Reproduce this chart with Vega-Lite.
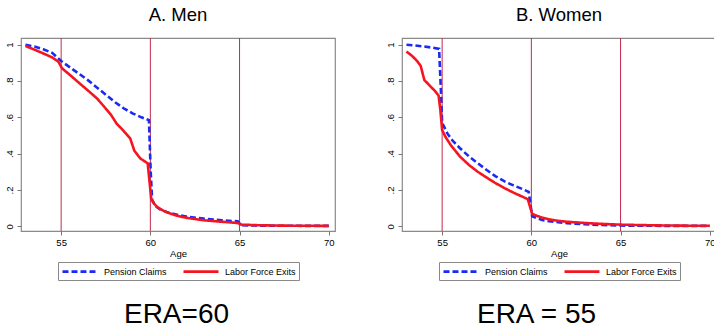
{
  "$schema": "https://vega.github.io/schema/vega-lite/v6.json",
  "background": "white",
  "padding": {"left": 3, "top": 5, "right": 0, "bottom": 0},
  "config": {
    "font": "Liberation Sans",
    "view": {"stroke": "#8a8a8a", "strokeWidth": 1.2},
    "axis": {"grid": false, "domain": false, "tickColor": "#777777", "tickSize": 4, "labelFont": "Liberation Sans", "labelFontSize": 9.5, "labelColor": "#000000", "titleFont": "Liberation Sans", "titleFontWeight": "normal", "titleFontSize": 9.5, "titleColor": "#000000"},
    "legend": {"orient": "bottom", "direction": "horizontal", "symbolType": "M-1,0H6", "symbolSize": 100, "symbolStrokeWidth": 2.6, "labelFont": "Liberation Sans", "labelFontSize": 9, "labelColor": "#000000", "strokeColor": "#8a8a8a", "padding": 3, "columnPadding": 11, "labelOffset": 30, "offset": 4, "layout": {"bottom": {"anchor": "middle"}}},
    "title": {"font": "Liberation Sans", "fontWeight": "normal", "color": "#000000", "anchor": "middle"},
    "concat": {"spacing": 48}
  },
  "datasets": {
    "rules": [{"age": 55}, {"age": 60}, {"age": 65}],
    "curves": [
      {"panel": "A", "series": "Pension Claims", "age": 53, "value": 1.0},
      {"panel": "A", "series": "Pension Claims", "age": 53.5, "value": 0.99},
      {"panel": "A", "series": "Pension Claims", "age": 54, "value": 0.975},
      {"panel": "A", "series": "Pension Claims", "age": 54.5, "value": 0.955},
      {"panel": "A", "series": "Pension Claims", "age": 55, "value": 0.91},
      {"panel": "A", "series": "Pension Claims", "age": 55.5, "value": 0.875},
      {"panel": "A", "series": "Pension Claims", "age": 56, "value": 0.84},
      {"panel": "A", "series": "Pension Claims", "age": 56.5, "value": 0.805},
      {"panel": "A", "series": "Pension Claims", "age": 57, "value": 0.765},
      {"panel": "A", "series": "Pension Claims", "age": 57.5, "value": 0.725},
      {"panel": "A", "series": "Pension Claims", "age": 58, "value": 0.685},
      {"panel": "A", "series": "Pension Claims", "age": 58.5, "value": 0.65},
      {"panel": "A", "series": "Pension Claims", "age": 59, "value": 0.622},
      {"panel": "A", "series": "Pension Claims", "age": 59.5, "value": 0.6},
      {"panel": "A", "series": "Pension Claims", "age": 59.92, "value": 0.585},
      {"panel": "A", "series": "Pension Claims", "age": 60.02, "value": 0.3},
      {"panel": "A", "series": "Pension Claims", "age": 60.1, "value": 0.145},
      {"panel": "A", "series": "Pension Claims", "age": 60.3, "value": 0.11},
      {"panel": "A", "series": "Pension Claims", "age": 60.6, "value": 0.09},
      {"panel": "A", "series": "Pension Claims", "age": 61, "value": 0.076},
      {"panel": "A", "series": "Pension Claims", "age": 61.5, "value": 0.064},
      {"panel": "A", "series": "Pension Claims", "age": 62, "value": 0.054},
      {"panel": "A", "series": "Pension Claims", "age": 63, "value": 0.042},
      {"panel": "A", "series": "Pension Claims", "age": 64, "value": 0.033},
      {"panel": "A", "series": "Pension Claims", "age": 64.9, "value": 0.027},
      {"panel": "A", "series": "Pension Claims", "age": 65.1, "value": 0.006},
      {"panel": "A", "series": "Pension Claims", "age": 66, "value": 0.004},
      {"panel": "A", "series": "Pension Claims", "age": 67, "value": 0.003},
      {"panel": "A", "series": "Pension Claims", "age": 68, "value": 0.003},
      {"panel": "A", "series": "Pension Claims", "age": 69, "value": 0.002},
      {"panel": "A", "series": "Pension Claims", "age": 70, "value": 0.002},
      {"panel": "A", "series": "Labor Force Exits", "age": 53, "value": 0.993},
      {"panel": "A", "series": "Labor Force Exits", "age": 53.5, "value": 0.973},
      {"panel": "A", "series": "Labor Force Exits", "age": 54, "value": 0.952},
      {"panel": "A", "series": "Labor Force Exits", "age": 54.5, "value": 0.93},
      {"panel": "A", "series": "Labor Force Exits", "age": 54.85, "value": 0.906},
      {"panel": "A", "series": "Labor Force Exits", "age": 55.05, "value": 0.87},
      {"panel": "A", "series": "Labor Force Exits", "age": 55.5, "value": 0.833},
      {"panel": "A", "series": "Labor Force Exits", "age": 56, "value": 0.79},
      {"panel": "A", "series": "Labor Force Exits", "age": 56.5, "value": 0.748},
      {"panel": "A", "series": "Labor Force Exits", "age": 57, "value": 0.705},
      {"panel": "A", "series": "Labor Force Exits", "age": 57.4, "value": 0.66},
      {"panel": "A", "series": "Labor Force Exits", "age": 57.8, "value": 0.613},
      {"panel": "A", "series": "Labor Force Exits", "age": 58.1, "value": 0.567},
      {"panel": "A", "series": "Labor Force Exits", "age": 58.5, "value": 0.525},
      {"panel": "A", "series": "Labor Force Exits", "age": 58.87, "value": 0.484},
      {"panel": "A", "series": "Labor Force Exits", "age": 59.1, "value": 0.417},
      {"panel": "A", "series": "Labor Force Exits", "age": 59.43, "value": 0.374},
      {"panel": "A", "series": "Labor Force Exits", "age": 59.85, "value": 0.347},
      {"panel": "A", "series": "Labor Force Exits", "age": 59.95, "value": 0.25},
      {"panel": "A", "series": "Labor Force Exits", "age": 60.05, "value": 0.15},
      {"panel": "A", "series": "Labor Force Exits", "age": 60.2, "value": 0.125},
      {"panel": "A", "series": "Labor Force Exits", "age": 60.4, "value": 0.105},
      {"panel": "A", "series": "Labor Force Exits", "age": 60.7, "value": 0.087},
      {"panel": "A", "series": "Labor Force Exits", "age": 61, "value": 0.074},
      {"panel": "A", "series": "Labor Force Exits", "age": 61.5, "value": 0.058},
      {"panel": "A", "series": "Labor Force Exits", "age": 62, "value": 0.047},
      {"panel": "A", "series": "Labor Force Exits", "age": 63, "value": 0.033},
      {"panel": "A", "series": "Labor Force Exits", "age": 64, "value": 0.025},
      {"panel": "A", "series": "Labor Force Exits", "age": 64.9, "value": 0.018},
      {"panel": "A", "series": "Labor Force Exits", "age": 65.1, "value": 0.009},
      {"panel": "A", "series": "Labor Force Exits", "age": 66, "value": 0.006},
      {"panel": "A", "series": "Labor Force Exits", "age": 67, "value": 0.004},
      {"panel": "A", "series": "Labor Force Exits", "age": 68, "value": 0.003},
      {"panel": "A", "series": "Labor Force Exits", "age": 69, "value": 0.003},
      {"panel": "A", "series": "Labor Force Exits", "age": 70, "value": 0.002},
      {"panel": "B", "series": "Pension Claims", "age": 53, "value": 1.0},
      {"panel": "B", "series": "Pension Claims", "age": 53.5, "value": 0.996},
      {"panel": "B", "series": "Pension Claims", "age": 54, "value": 0.99},
      {"panel": "B", "series": "Pension Claims", "age": 54.5, "value": 0.983},
      {"panel": "B", "series": "Pension Claims", "age": 54.83, "value": 0.977},
      {"panel": "B", "series": "Pension Claims", "age": 54.93, "value": 0.75},
      {"panel": "B", "series": "Pension Claims", "age": 55.0, "value": 0.57},
      {"panel": "B", "series": "Pension Claims", "age": 55.3, "value": 0.51},
      {"panel": "B", "series": "Pension Claims", "age": 55.6, "value": 0.47},
      {"panel": "B", "series": "Pension Claims", "age": 56, "value": 0.43},
      {"panel": "B", "series": "Pension Claims", "age": 56.5, "value": 0.385},
      {"panel": "B", "series": "Pension Claims", "age": 57, "value": 0.347},
      {"panel": "B", "series": "Pension Claims", "age": 57.5, "value": 0.31},
      {"panel": "B", "series": "Pension Claims", "age": 58, "value": 0.275},
      {"panel": "B", "series": "Pension Claims", "age": 58.5, "value": 0.247},
      {"panel": "B", "series": "Pension Claims", "age": 59, "value": 0.225},
      {"panel": "B", "series": "Pension Claims", "age": 59.5, "value": 0.205},
      {"panel": "B", "series": "Pension Claims", "age": 59.85, "value": 0.19},
      {"panel": "B", "series": "Pension Claims", "age": 59.95, "value": 0.12},
      {"panel": "B", "series": "Pension Claims", "age": 60.05, "value": 0.055},
      {"panel": "B", "series": "Pension Claims", "age": 60.3, "value": 0.045},
      {"panel": "B", "series": "Pension Claims", "age": 60.6, "value": 0.035},
      {"panel": "B", "series": "Pension Claims", "age": 61, "value": 0.028},
      {"panel": "B", "series": "Pension Claims", "age": 61.5, "value": 0.022},
      {"panel": "B", "series": "Pension Claims", "age": 62, "value": 0.017},
      {"panel": "B", "series": "Pension Claims", "age": 63, "value": 0.011},
      {"panel": "B", "series": "Pension Claims", "age": 64, "value": 0.007},
      {"panel": "B", "series": "Pension Claims", "age": 65, "value": 0.004},
      {"panel": "B", "series": "Pension Claims", "age": 66, "value": 0.003},
      {"panel": "B", "series": "Pension Claims", "age": 68, "value": 0.002},
      {"panel": "B", "series": "Pension Claims", "age": 70, "value": 0.002},
      {"panel": "B", "series": "Labor Force Exits", "age": 53, "value": 0.962},
      {"panel": "B", "series": "Labor Force Exits", "age": 53.3, "value": 0.94},
      {"panel": "B", "series": "Labor Force Exits", "age": 53.6, "value": 0.91},
      {"panel": "B", "series": "Labor Force Exits", "age": 53.8, "value": 0.883},
      {"panel": "B", "series": "Labor Force Exits", "age": 54, "value": 0.806},
      {"panel": "B", "series": "Labor Force Exits", "age": 54.3, "value": 0.775},
      {"panel": "B", "series": "Labor Force Exits", "age": 54.6, "value": 0.745},
      {"panel": "B", "series": "Labor Force Exits", "age": 54.8, "value": 0.72},
      {"panel": "B", "series": "Labor Force Exits", "age": 54.9, "value": 0.64},
      {"panel": "B", "series": "Labor Force Exits", "age": 55.0, "value": 0.53},
      {"panel": "B", "series": "Labor Force Exits", "age": 55.2, "value": 0.49},
      {"panel": "B", "series": "Labor Force Exits", "age": 55.5, "value": 0.445},
      {"panel": "B", "series": "Labor Force Exits", "age": 56, "value": 0.384},
      {"panel": "B", "series": "Labor Force Exits", "age": 56.5, "value": 0.338},
      {"panel": "B", "series": "Labor Force Exits", "age": 57, "value": 0.3},
      {"panel": "B", "series": "Labor Force Exits", "age": 57.5, "value": 0.268},
      {"panel": "B", "series": "Labor Force Exits", "age": 58, "value": 0.237},
      {"panel": "B", "series": "Labor Force Exits", "age": 58.5, "value": 0.21},
      {"panel": "B", "series": "Labor Force Exits", "age": 59, "value": 0.185},
      {"panel": "B", "series": "Labor Force Exits", "age": 59.5, "value": 0.163},
      {"panel": "B", "series": "Labor Force Exits", "age": 59.8, "value": 0.149},
      {"panel": "B", "series": "Labor Force Exits", "age": 59.95, "value": 0.1},
      {"panel": "B", "series": "Labor Force Exits", "age": 60.05, "value": 0.068},
      {"panel": "B", "series": "Labor Force Exits", "age": 60.3, "value": 0.058},
      {"panel": "B", "series": "Labor Force Exits", "age": 60.6, "value": 0.048},
      {"panel": "B", "series": "Labor Force Exits", "age": 61, "value": 0.038},
      {"panel": "B", "series": "Labor Force Exits", "age": 61.5, "value": 0.03},
      {"panel": "B", "series": "Labor Force Exits", "age": 62, "value": 0.025},
      {"panel": "B", "series": "Labor Force Exits", "age": 63, "value": 0.018},
      {"panel": "B", "series": "Labor Force Exits", "age": 64, "value": 0.013},
      {"panel": "B", "series": "Labor Force Exits", "age": 65, "value": 0.009},
      {"panel": "B", "series": "Labor Force Exits", "age": 66, "value": 0.007},
      {"panel": "B", "series": "Labor Force Exits", "age": 67, "value": 0.005},
      {"panel": "B", "series": "Labor Force Exits", "age": 68, "value": 0.004},
      {"panel": "B", "series": "Labor Force Exits", "age": 69, "value": 0.003},
      {"panel": "B", "series": "Labor Force Exits", "age": 70, "value": 0.003}
    ]
  },
  "resolve": {"scale": {"color": "independent", "strokeDash": "independent"}},
  "hconcat": [
    {
      "title": {"text": "ERA=60", "orient": "bottom", "fontSize": 28, "offset": 20, "anchor": "middle", "dx": 7},
      "resolve": {"scale": {"color": "independent", "strokeDash": "independent"}},
      "vconcat": [
        {
          "width": 314,
          "height": 193,
          "title": {"text": "A. Men", "fontSize": 18.5, "offset": 13},
          "layer": [
            {
              "data": {"name": "rules"},
              "mark": {"type": "rule", "color": "#c22a4c", "strokeWidth": 1},
              "encoding": {"x": {"field": "age", "type": "quantitative"}}
            },
            {
              "data": {"name": "curves"},
              "transform": [{"filter": "datum.panel == 'A'"}],
              "mark": {"type": "line", "strokeWidth": 2.6, "clip": true},
              "encoding": {
                "x": {"field": "age", "type": "quantitative", "scale": {"domain": [52.75, 70.35], "nice": false, "zero": false}, "axis": {"values": [55, 60, 65, 70], "title": "Age", "labelAngle": 0, "titlePadding": 2, "labelPadding": 2}},
                "y": {"field": "value", "type": "quantitative", "scale": {"domain": [-0.026, 1.037], "nice": false, "zero": false}, "axis": {"values": [0, 0.2, 0.4, 0.6, 0.8, 1], "labelExpr": "datum.value == 0 ? '0' : datum.value == 1 ? '1' : '.' + round(datum.value * 10)", "labelAngle": -90, "title": null, "labelPadding": 3}},
                "color": {"field": "series", "type": "nominal", "scale": {"domain": ["Pension Claims", "Labor Force Exits"], "range": ["#1a2af5", "#f51420"]}, "legend": {"title": null}},
                "strokeDash": {"field": "series", "type": "nominal", "scale": {"domain": ["Pension Claims", "Labor Force Exits"], "range": [[6, 3], [1, 0]]}, "legend": {"title": null}}
              }
            }
          ]
        }
      ]
    },
    {
      "title": {"text": "ERA = 55", "orient": "bottom", "fontSize": 28, "offset": 20, "anchor": "middle", "dx": -14},
      "resolve": {"scale": {"color": "independent", "strokeDash": "independent"}},
      "vconcat": [
        {
          "width": 314,
          "height": 193,
          "title": {"text": "B. Women", "fontSize": 18.5, "offset": 13},
          "layer": [
            {
              "data": {"name": "rules"},
              "mark": {"type": "rule", "color": "#c22a4c", "strokeWidth": 1},
              "encoding": {"x": {"field": "age", "type": "quantitative"}}
            },
            {
              "data": {"name": "curves"},
              "transform": [{"filter": "datum.panel == 'B'"}],
              "mark": {"type": "line", "strokeWidth": 2.6, "clip": true},
              "encoding": {
                "x": {"field": "age", "type": "quantitative", "scale": {"domain": [52.75, 70.35], "nice": false, "zero": false}, "axis": {"values": [55, 60, 65, 70], "title": "Age", "labelAngle": 0, "titlePadding": 2, "labelPadding": 2}},
                "y": {"field": "value", "type": "quantitative", "scale": {"domain": [-0.026, 1.037], "nice": false, "zero": false}, "axis": {"values": [0, 0.2, 0.4, 0.6, 0.8, 1], "labelExpr": "datum.value == 0 ? '0' : datum.value == 1 ? '1' : '.' + round(datum.value * 10)", "labelAngle": -90, "title": null, "labelPadding": 3}},
                "color": {"field": "series", "type": "nominal", "scale": {"domain": ["Pension Claims", "Labor Force Exits"], "range": ["#1a2af5", "#f51420"]}, "legend": {"title": null}},
                "strokeDash": {"field": "series", "type": "nominal", "scale": {"domain": ["Pension Claims", "Labor Force Exits"], "range": [[6, 3], [1, 0]]}, "legend": {"title": null}}
              }
            }
          ]
        }
      ]
    }
  ]
}
